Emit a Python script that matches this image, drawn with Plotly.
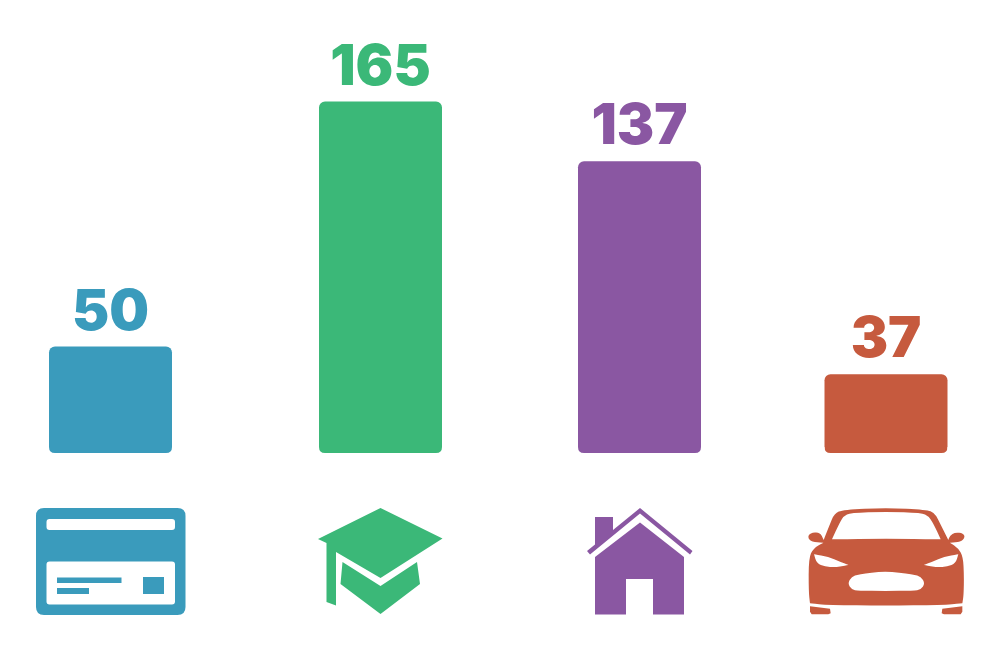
import plotly.graph_objects as go

# --- data ---
categories = ["Credit card", "Education", "Home", "Car"]
values = [50, 165, 137, 37]
colors = ["#3A9BBC", "#3BB878", "#8A57A2", "#C65A3E"]

# --- layout constants (pixels in the 1000x650 page) ---
W, H = 1000, 650
BASE_PX = 453
PX_PER_UNIT = 2.13
CENTERS = [110.5, 380.5, 639.5, 886]
BAR_W = 123
RADIUS = 6


def P(x, y):
    return f"{x / W:.5f},{1 - y / H:.5f}"


def poly(points):
    return "M" + " L".join(P(x, y) for x, y in points) + " Z"


def smooth(points):
    n = len(points)
    mid = lambda a, b: ((a[0] + b[0]) / 2, (a[1] + b[1]) / 2)
    s = mid(points[-1], points[0])
    d = "M" + P(*s)
    for i in range(n):
        m = mid(points[i], points[(i + 1) % n])
        d += f" Q{P(*points[i])} {P(*m)}"
    return d + " Z"


def rrect(x0, y0, x1, y1, r):
    return (
        f"M{P(x0 + r, y0)} L{P(x1 - r, y0)} Q{P(x1, y0)} {P(x1, y0 + r)} "
        f"L{P(x1, y1 - r)} Q{P(x1, y1)} {P(x1 - r, y1)} "
        f"L{P(x0 + r, y1)} Q{P(x0, y1)} {P(x0, y1 - r)} "
        f"L{P(x0, y0 + r)} Q{P(x0, y0)} {P(x0 + r, y0)} Z"
    )


def cz(points):
    return [(795 + x / 3, 495 + y / 3) for x, y in points]


card = " ".join([
    rrect(36, 508, 185.5, 615, 8),
    rrect(46.5, 519, 175, 530, 3),
    rrect(46.5, 561.5, 175, 604.5, 3),
    poly([(57, 577.5), (121.5, 577.5), (121.5, 583), (57, 583)]),
    poly([(57, 588), (89, 588), (89, 594), (57, 594)]),
    poly([(143, 577), (164, 577), (164, 594), (143, 594)]),
])

cap = " ".join([
    poly([(380.5, 508), (442.5, 538.5), (380.5, 578), (336, 552), (336, 605.5),
          (326.5, 602), (326.5, 543), (318, 539)]),
    poly([(342.5, 562), (380.5, 586), (417, 562), (420, 584), (380.5, 614), (340.5, 584)]),
])

house = " ".join([
    poly([(587, 551), (595, 544.5), (595, 517), (613, 517), (613, 530), (640, 508),
          (692.5, 551), (690, 554.5), (640, 513.5), (590, 554.5)]),
    poly([(640, 522.5), (684, 557), (684, 614.5), (653, 614.5), (653, 579), (626, 579),
          (626, 614.5), (595, 614.5), (595, 557)]),
])

car = " ".join([
    smooth(cz([(273, 38), (395, 44), (418, 53), (430, 75), (445, 105), (460, 135), (460, 135), (465, 122),
               (480, 112), (505, 115), (510, 128), (497, 141), (465, 143), (465, 143), (490, 160), (504, 185),
               (507, 240), (506, 300), (502, 325), (502, 325), (440, 330), (270, 332), (100, 330), (45, 325), (45, 325),
               (41, 290), (41, 190), (55, 160), (85, 143), (85, 143), (50, 141), (38, 128), (45, 114),
               (75, 111), (86, 135), (86, 135), (103, 92), (118, 55), (145, 44)])),
    smooth(cz([(111, 133), (111, 133), (133, 85), (146, 63), (166, 54), (273, 50), (380, 54), (400, 63),
               (415, 85), (437, 133), (437, 133), (273, 131)])),
    smooth(cz([(57, 178), (57, 178), (100, 185), (135, 200), (160, 210), (160, 210), (120, 217), (90, 215), (65, 205)])),
    smooth(cz([(490, 178), (490, 178), (447, 185), (412, 200), (387, 210), (387, 210), (427, 217), (457, 215), (482, 205)])),
    smooth(cz([(158, 265), (170, 245), (190, 238), (270, 228), (355, 238), (378, 245), (390, 265),
               (378, 284), (355, 287), (270, 288), (190, 287), (170, 284)])),
    poly(cz([(45, 334), (105, 341), (107, 355), (100, 358), (50, 358), (45, 350)])),
    poly(cz([(502, 334), (442, 341), (440, 355), (447, 358), (497, 358), (502, 350)])),
])

icons = [card, cap, house, car]

# white corner masks: plotly's corner radius rounds only the bar's far end
masks = []
for c in CENTERS:
    x0, x1 = c - BAR_W / 2, c + BAR_W / 2
    r = RADIUS
    y1 = BASE_PX
    masks.append(f"M{P(x0 - 1, y1 + 1)} L{P(x0 + r, y1 + 1)} L{P(x0 + r, y1)} Q{P(x0, y1)} {P(x0, y1 - r)} L{P(x0 - 1, y1 - r)} Z")
    masks.append(f"M{P(x1 + 1, y1 + 1)} L{P(x1 - r, y1 + 1)} L{P(x1 - r, y1)} Q{P(x1, y1)} {P(x1, y1 - r)} L{P(x1 + 1, y1 - r)} Z")

fig = go.Figure(
    go.Bar(
        x=CENTERS,
        y=values,
        width=BAR_W,
        marker=dict(color=colors, line_width=0),
        text=[str(v) for v in values],
        textposition="outside",
        textangle=0,
        constraintext="none",
        cliponaxis=False,
        textfont=dict(family="Inter", size=56, weight=900, color=colors),
        customdata=categories,
        hoverinfo="skip",
    )
)

shapes = [
    dict(type="path", xref="paper", yref="paper", path=p, fillcolor=c,
         line_width=0, fillrule="evenodd", layer="above")
    for p, c in zip(icons, colors)
]
shapes += [
    dict(type="path", xref="paper", yref="paper", path=m, fillcolor="white",
         line_width=0, layer="above")
    for m in masks
]

fig.update_layout(
    width=W,
    height=H,
    margin=dict(l=0, r=0, t=0, b=0),
    paper_bgcolor="white",
    plot_bgcolor="white",
    barcornerradius=RADIUS,
    showlegend=False,
    shapes=shapes,
)
fig.update_xaxes(range=[0, W], visible=False, fixedrange=True)
fig.update_yaxes(
    range=[-(H - BASE_PX) / PX_PER_UNIT, BASE_PX / PX_PER_UNIT],
    visible=False,
    fixedrange=True,
)

fig.write_html(
    "out.html",
    config=dict(displayModeBar=False),
    post_script="document.body.style.margin='0';document.documentElement.style.overflow='hidden';",
)
